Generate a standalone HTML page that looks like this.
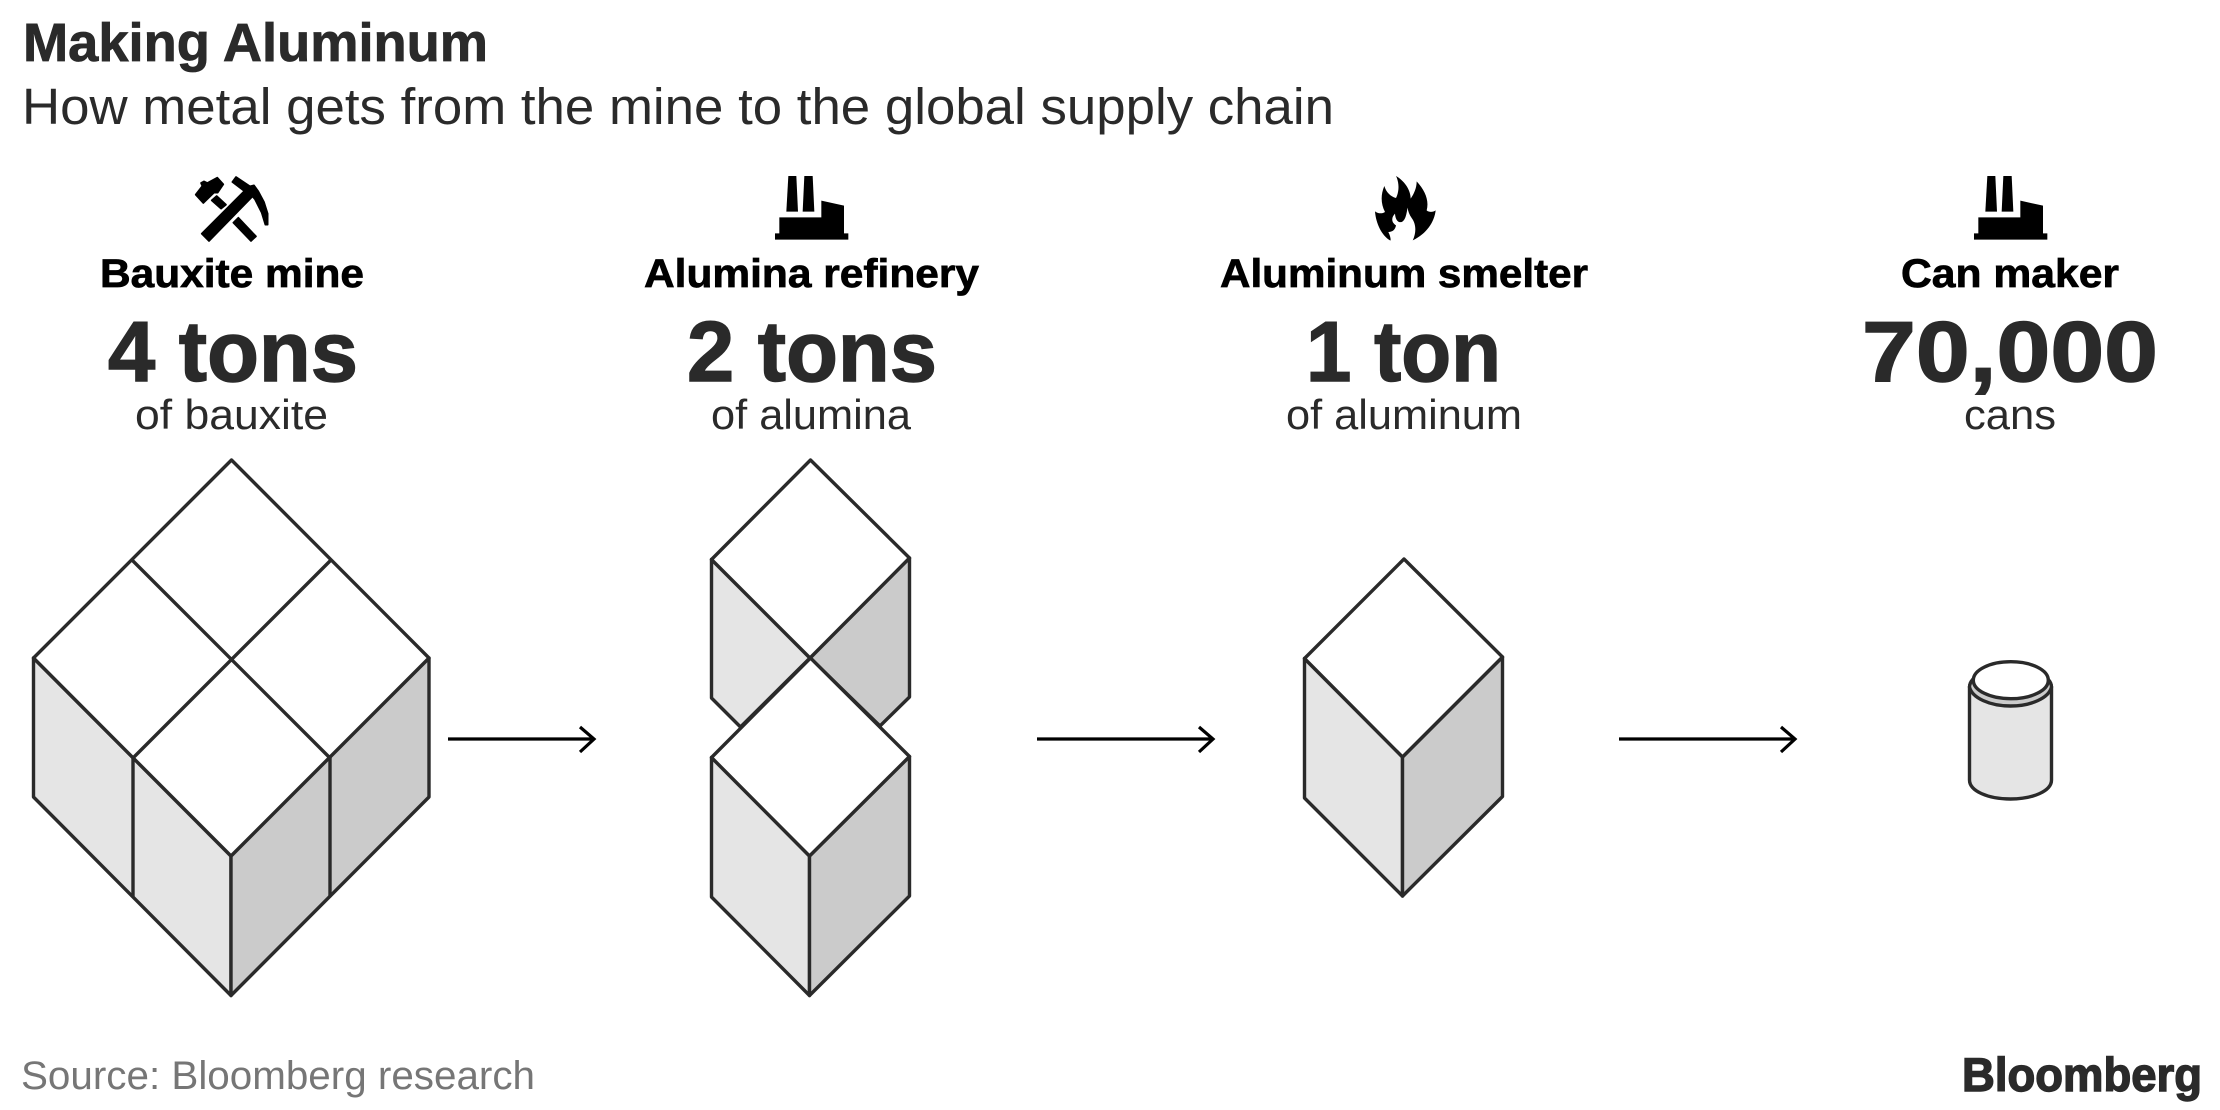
<!DOCTYPE html>
<html><head><meta charset="utf-8"><style>
html,body{margin:0;padding:0;background:#fff}
svg{display:block}
text{font-family:"Liberation Sans",Arial,sans-serif}
.h{font-weight:700;font-size:40px;fill:#000;stroke:#000;stroke-width:.7}
.n{font-weight:700;font-size:85px;fill:#2a2a2a;stroke:#2a2a2a;stroke-width:1.4}
.s{font-size:42px;fill:#2a2a2a}
.c{stroke:#2a2a2a;stroke-width:3.4;stroke-linejoin:round;stroke-linecap:round}
.a{fill:none;stroke:#000;stroke-width:3.2}
</style></head><body>
<svg width="2220" height="1110" viewBox="0 0 2220 1110" xmlns="http://www.w3.org/2000/svg">
<rect width="2220" height="1110" fill="#fff"/>
<text x="23" y="61" font-size="54" font-weight="700" fill="#2a2a2a" stroke="#2a2a2a" stroke-width=".8" textLength="465" lengthAdjust="spacingAndGlyphs">Making Aluminum</text>
<text x="22" y="124" font-size="51" fill="#2a2a2a" textLength="1312" lengthAdjust="spacingAndGlyphs">How metal gets from the mine to the global supply chain</text>

<!-- hammer & pick -->
<g transform="translate(190 172) scale(.33333)" fill="#000" stroke="#000" stroke-width="5" stroke-linejoin="round">
<polygon points="17,68 37,42 33,33 42,28 52,33 82,17 100,37 83,62 72,62 40,93"/>
<polygon points="80,72 108,98 93,110 65,85"/>
<polygon points="145,137 198,193 183,207 130,152"/>
<polygon points="35,185 165,55 185,76 57,207"/>
<polygon points="127,30 138,15 180,43 192,40 205,58 222,90 233,125 233,158 226,158 215,122 195,82 183,68 160,55"/>
</g>
<!-- factory 1 -->
<g transform="translate(760 165) scale(.33333)" fill="#000">
<polygon points="85,33 109,33 114,140 79,140"/>
<polygon points="133,33 158,33 163,140 128,140"/>
<polygon points="58,157 184,157 184,107 252,122 252,205 265,205 265,224 45,224 45,205 58,205"/>
</g>
<!-- flame -->
<g transform="translate(1370 172) scale(.33333)">
<path fill="#000" d="M78,12 C105,28 122,55 122,80 C132,65 140,48 140,28 C165,55 178,85 170,115 C178,122 190,120 197,115 C193,150 170,185 128,205 L60,205 C35,190 18,155 15,118 C25,126 38,125 45,120 C32,95 32,68 43,42 C48,60 62,74 78,78 C88,58 88,32 78,12 Z"/>
<path fill="#fff" d="M128,206 C140,180 138,155 125,138 C118,128 114,118 113,107 C110,120 108,145 95,150 C82,153 76,140 75,125 C65,135 62,150 78,160 C76,172 68,180 55,180 C60,190 62,197 62,206 Z"/>
</g>
<!-- factory 2 -->
<g transform="translate(1959 165) scale(.33333)" fill="#000">
<polygon points="85,33 109,33 114,140 79,140"/>
<polygon points="133,33 158,33 163,140 128,140"/>
<polygon points="58,157 184,157 184,107 252,122 252,205 265,205 265,224 45,224 45,205 58,205"/>
</g>

<text class="h" x="100" y="287" textLength="264" lengthAdjust="spacingAndGlyphs">Bauxite mine</text>
<text class="n" x="108" y="381" textLength="250" lengthAdjust="spacingAndGlyphs">4 tons</text>
<text class="s" x="135" y="429" textLength="193" lengthAdjust="spacingAndGlyphs">of bauxite</text>

<text class="h" x="644" y="287" textLength="335" lengthAdjust="spacingAndGlyphs">Alumina refinery</text>
<text class="n" x="687" y="381" textLength="250" lengthAdjust="spacingAndGlyphs">2 tons</text>
<text class="s" x="711" y="429" textLength="200" lengthAdjust="spacingAndGlyphs">of alumina</text>

<text class="h" x="1220" y="287" textLength="368" lengthAdjust="spacingAndGlyphs">Aluminum smelter</text>
<text class="n" x="1306" y="381" textLength="195" lengthAdjust="spacingAndGlyphs">1 ton</text>
<text class="s" x="1286" y="429" textLength="236" lengthAdjust="spacingAndGlyphs">of aluminum</text>

<text class="h" x="1901" y="287" textLength="218" lengthAdjust="spacingAndGlyphs">Can maker</text>
<text class="n" x="1862" y="381" textLength="296" lengthAdjust="spacingAndGlyphs">70,000</text>
<text class="s" x="1964" y="429" textLength="92" lengthAdjust="spacingAndGlyphs">cans</text>

<!-- block of 4 -->
<g class="c">
<polygon fill="#e5e5e5" points="33.5,658 231,856 231,995.5 33.5,797"/>
<polygon fill="#cbcbcb" points="231,856 429,658 429,797 231,995.5"/>
<polygon fill="#fff" points="231.5,460 429,658 231,856 33.5,658"/>
<path fill="none" d="M133,561 L330,758 M330,561 L133,758 M133,758 V896 M330,758 V896"/>
</g>
<path class="a" d="M448 739 H594 M580 727 L594 739 L580 752"/>

<!-- two stacked -->
<g class="c">
<polygon fill="#e5e5e5" points="711.5,559.5 810,658 740.5,727 711.5,698"/>
<polygon fill="#cbcbcb" points="810,658 909.5,558 909.5,697 880,726"/>
<polygon fill="#fff" points="810.5,460 909.5,558 810,658 711.5,559.5"/>
<polygon fill="#e5e5e5" points="711.5,757.5 809.5,856 809.5,995.5 711.5,897"/>
<polygon fill="#cbcbcb" points="809.5,856 909.5,756.5 909.5,896 809.5,995.5"/>
<polygon fill="#fff" points="810.5,658 909.5,756.5 809.5,856 711.5,757.5"/>
</g>
<path class="a" d="M1037 739 H1213 M1199 727 L1213 739 L1199 752"/>

<!-- one -->
<g class="c">
<polygon fill="#e5e5e5" points="1304.5,658.5 1402.5,757 1402.5,896 1304.5,798"/>
<polygon fill="#cbcbcb" points="1402.5,757 1502.5,657 1502.5,796.5 1402.5,896"/>
<polygon fill="#fff" points="1404,559 1502.5,657 1402.5,757 1304.5,658.5"/>
</g>
<path class="a" d="M1619 739 H1795 M1781 727 L1795 739 L1781 752"/>

<!-- can -->
<g class="c">
<path fill="#e5e5e5" d="M1969.5 687 V780 C1969.5 791 1988 799 2010.5 799 C2033 799 2051.5 791 2051.5 780 V687 C2051 676 2033 668 2010.5 668 C1988 668 1970 676 1969.5 687 Z"/>
<path fill="#cbcbcb" d="M1969.5 687 C1972 698 1990 706 2010.5 706 C2031 706 2049 698 2051.5 687 C2051 676 2033 668 2010.5 668 C1988 668 1970 676 1969.5 687 Z"/>
<ellipse fill="#fff" cx="2010.8" cy="680.2" rx="37.5" ry="18.5"/>
</g>

<text x="21" y="1089" font-size="40" fill="#767676" textLength="514" lengthAdjust="spacingAndGlyphs">Source: Bloomberg research</text>
<text x="1962" y="1091" font-size="47" font-weight="700" fill="#2a2a2a" stroke="#2a2a2a" stroke-width="1.4" textLength="240" lengthAdjust="spacingAndGlyphs">Bloomberg</text>
</svg>
</body></html>
